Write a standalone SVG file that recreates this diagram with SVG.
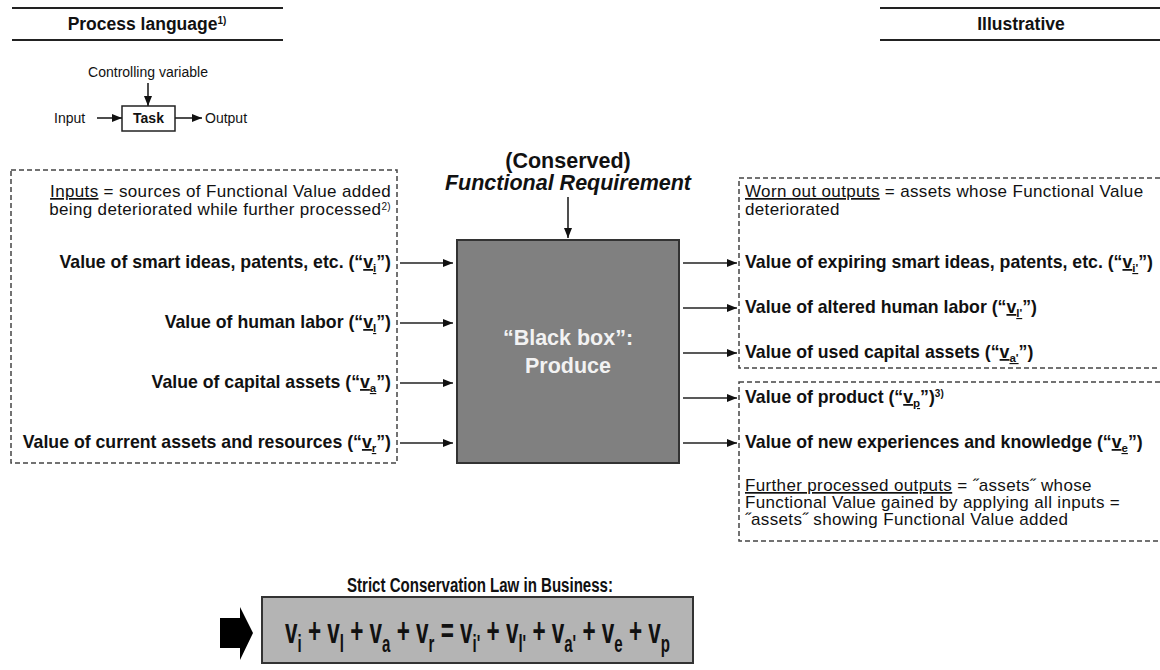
<svg xmlns="http://www.w3.org/2000/svg" width="1160" height="670" viewBox="0 0 1160 670">
  <defs>
    <style>
      text { font-family: "Liberation Sans", Arial, sans-serif; fill: #111; }
      .hdr { font-size: 17.5px; font-weight: bold; }
      .small { font-size: 14px; }
      .note { font-size: 17px; letter-spacing: 0.35px; }
      .lbl { font-size: 17.7px; font-weight: bold; }
      .sub { font-size: 11.5px; }
      .sup { font-size: 10px; }
      .u { text-decoration: underline; }
      .big { font-size: 21.5px; font-weight: bold; }
      .eq { font-size: 36px; font-weight: bold; }
      .eqs { font-size: 24px; }
      .rule { stroke: #222; stroke-width: 2; }
      .dash { fill: none; stroke: #444; stroke-width: 1.5; stroke-dasharray: 5 3; }
      .conn { fill: none; stroke: #222; stroke-width: 1.6; marker-end: url(#ah); }
    </style>
    <marker id="ah" viewBox="0 0 10 8" refX="10" refY="4" markerWidth="10" markerHeight="8" markerUnits="userSpaceOnUse" orient="auto">
      <path d="M0,0 L10,4 L0,8 z" fill="#111"/>
    </marker>
  </defs>

  <!-- section headers -->
  <g id="header-left">
    <line class="rule" x1="12" y1="8" x2="283" y2="8"/>
    <text class="hdr" x="147" y="30" text-anchor="middle">Process language<tspan class="sup" dy="-6">1)</tspan></text>
    <line class="rule" x1="12" y1="40" x2="283" y2="40"/>
  </g>
  <g id="header-right">
    <line class="rule" x1="880" y1="8" x2="1160" y2="8"/>
    <text class="hdr" x="1021" y="30" text-anchor="middle">Illustrative</text>
    <line class="rule" x1="880" y1="40" x2="1160" y2="40"/>
  </g>

  <!-- process language legend -->
  <g id="legend">
    <text class="small" x="148" y="77" text-anchor="middle">Controlling variable</text>
    <text class="small" x="54" y="123">Input</text>
    <rect x="122" y="106" width="53" height="25" fill="#fff" stroke="#222" stroke-width="1.5"/>
    <text class="small" x="148.5" y="123" text-anchor="middle" font-weight="bold">Task</text>
    <text class="small" x="205" y="123">Output</text>
  </g>

  <!-- inputs group -->
  <g id="inputs">
    <rect class="dash" x="11" y="170" width="386" height="293"/>
    <text class="note" x="391" y="197" text-anchor="end"><tspan class="u">Inputs</tspan> = sources of Functional Value added</text>
    <text class="note" x="391" y="215" text-anchor="end">being deteriorated while further processed<tspan class="sup" dy="-5">2)</tspan></text>
    <text class="lbl" x="391" y="268" text-anchor="end">Value of smart ideas, patents, etc. (“<tspan class="u">v</tspan><tspan class="sub u" dy="4">i</tspan><tspan dy="-4">”)</tspan></text>
    <text class="lbl" x="391" y="328" text-anchor="end">Value of human labor (“<tspan class="u">v</tspan><tspan class="sub u" dy="4">l</tspan><tspan dy="-4">”)</tspan></text>
    <text class="lbl" x="391" y="388" text-anchor="end">Value of capital assets (“<tspan class="u">v</tspan><tspan class="sub u" dy="4">a</tspan><tspan dy="-4">”)</tspan></text>
    <text class="lbl" x="391" y="448" text-anchor="end">Value of current assets and resources (“<tspan class="u">v</tspan><tspan class="sub u" dy="4">r</tspan><tspan dy="-4">”)</tspan></text>
  </g>

  <!-- functional requirement -->
  <g id="requirement">
    <text class="big" x="568" y="168" text-anchor="middle">(Conserved)</text>
    <text class="big" x="568" y="190" text-anchor="middle" font-style="italic">Functional Requirement</text>
  </g>

  <!-- black box -->
  <g id="black-box">
    <rect x="457" y="240" width="222" height="223" fill="#808080" stroke="#333" stroke-width="2"/>
    <text class="big" x="568" y="345" text-anchor="middle" style="fill:#f2f2f2">“Black box”:</text>
    <text class="big" x="568" y="373" text-anchor="middle" style="fill:#f2f2f2">Produce</text>
  </g>

  <!-- worn out outputs -->
  <g id="worn-out">
    <rect class="dash" x="739" y="178" width="430" height="190"/>
    <text class="note" x="745" y="197"><tspan class="u">Worn out outputs</tspan> = assets whose Functional Value</text>
    <text class="note" x="745" y="215">deteriorated</text>
    <text class="lbl" x="745" y="268">Value of expiring smart ideas, patents, etc. (“<tspan class="u">v</tspan><tspan class="sub u" dy="4">i'</tspan><tspan dy="-4">”)</tspan></text>
    <text class="lbl" x="745" y="313">Value of altered human labor (“<tspan class="u">v</tspan><tspan class="sub u" dy="4">l'</tspan><tspan dy="-4">”)</tspan></text>
    <text class="lbl" x="745" y="358">Value of used capital assets (“<tspan class="u">v</tspan><tspan class="sub u" dy="4">a'</tspan><tspan dy="-4">”)</tspan></text>
  </g>

  <!-- further processed outputs -->
  <g id="further-processed">
    <rect class="dash" x="739" y="382" width="430" height="159"/>
    <text class="lbl" x="745" y="403">Value of product (“<tspan class="u">v</tspan><tspan class="sub u" dy="4">p</tspan><tspan dy="-4">”)</tspan><tspan class="sup" dy="-6">3)</tspan></text>
    <text class="lbl" x="745" y="448">Value of new experiences and knowledge (“<tspan class="u">v</tspan><tspan class="sub u" dy="4">e</tspan><tspan dy="-4">”)</tspan></text>
    <text class="note" x="745" y="491"><tspan class="u">Further processed outputs</tspan> = ˝assets˝ whose</text>
    <text class="note" x="745" y="508">Functional Value gained by applying all inputs =</text>
    <text class="note" x="745" y="525">˝assets˝ showing Functional Value added</text>
  </g>

  <!-- conservation law -->
  <g id="conservation-law">
    <text x="480" y="592" text-anchor="middle" font-size="20" font-weight="bold" textLength="266" lengthAdjust="spacingAndGlyphs">Strict Conservation Law in Business:</text>
    <path d="M220,618 L240,618 L240,607 L253,633 L240,660 L240,648 L220,648 z" fill="#000"/>
    <rect x="262" y="597" width="431" height="66" fill="#b4b4b4" stroke="#333" stroke-width="2"/>
    <text class="eq" transform="translate(285,643) scale(0.625,1)">v<tspan class="eqs" dy="9">i</tspan><tspan dy="-9"> + v</tspan><tspan class="eqs" dy="9">l</tspan><tspan dy="-9"> + v</tspan><tspan class="eqs" dy="9">a</tspan><tspan dy="-9"> + v</tspan><tspan class="eqs" dy="9">r</tspan><tspan dy="-9"> = v</tspan><tspan class="eqs" dy="9">i'</tspan><tspan dy="-9"> + v</tspan><tspan class="eqs" dy="9">l'</tspan><tspan dy="-9"> + v</tspan><tspan class="eqs" dy="9">a'</tspan><tspan dy="-9"> + v</tspan><tspan class="eqs" dy="9">e</tspan><tspan dy="-9"> + v</tspan><tspan class="eqs" dy="9">p</tspan></text>
  </g>

  <!-- connectors -->
  <g id="connectors">
    <line class="conn" x1="148" y1="83" x2="148" y2="106"/>
    <line class="conn" x1="97" y1="118" x2="122" y2="118"/>
    <line class="conn" x1="175" y1="118" x2="202" y2="118"/>
    <line class="conn" x1="568" y1="197" x2="568" y2="238"/>
    <line class="conn" x1="400" y1="263" x2="453" y2="263"/>
    <line class="conn" x1="400" y1="323" x2="453" y2="323"/>
    <line class="conn" x1="400" y1="383" x2="453" y2="383"/>
    <line class="conn" x1="400" y1="443" x2="453" y2="443"/>
    <line class="conn" x1="683" y1="263" x2="737" y2="263"/>
    <line class="conn" x1="683" y1="308" x2="737" y2="308"/>
    <line class="conn" x1="683" y1="353" x2="737" y2="353"/>
    <line class="conn" x1="683" y1="398" x2="737" y2="398"/>
    <line class="conn" x1="683" y1="443" x2="737" y2="443"/>
  </g>
</svg>
